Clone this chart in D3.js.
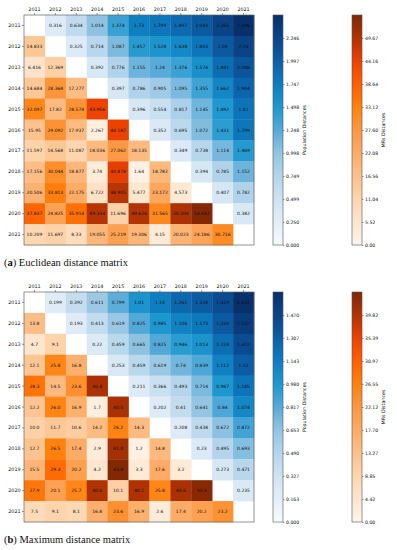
<!DOCTYPE html>
<html>
<head>
<meta charset="utf-8">
<script src="https://cdn.jsdelivr.net/npm/d3@7"></script>
<style>
  body { margin: 0; background: #fff; }
  svg { display: block; }
  .tick text { font-family: "DejaVu Sans", sans-serif; }
</style>
</head>
<body>
<div id="chart"></div>
<script>
const years = ['2011','2012','2013','2014','2015','2016','2017','2018','2019','2020','2021'];

// (a) upper triangle: population distances, row i -> columns i+1..10
const popA = [
  [0.316, 0.634, 1.014, 1.374, 1.73, 1.799, 1.897, 2.043, 2.265, 2.496],
  [0.325, 0.714, 1.087, 1.457, 1.528, 1.638, 1.803, 2.04, 2.26],
  [0.392, 0.776, 1.155, 1.24, 1.376, 1.574, 1.881, 2.088],
  [0.397, 0.786, 0.905, 1.095, 1.355, 1.662, 1.944],
  [0.396, 0.554, 0.817, 1.145, 1.492, 1.81],
  [0.352, 0.695, 1.072, 1.431, 1.799],
  [0.349, 0.738, 1.114, 1.469],
  [0.394, 0.785, 1.152],
  [0.407, 0.782],
  [0.382]
];
// (a) lower triangle: MRs distances, row i (from 2012) -> columns 0..i-1
const mrsA = [
  [14.833],
  [6.416, 12.369],
  [14.684, 28.368, 17.277],
  [32.097, 17.82, 28.574, 43.956],
  [15.95, 29.092, 17.937, 2.267, 44.187],
  [11.597, 14.568, 11.087, 18.036, 27.062, 18.135],
  [17.156, 30.044, 18.877, 3.74, 44.878, 1.64, 18.782],
  [20.506, 33.813, 22.175, 6.722, 48.905, 5.477, 23.172, 4.573],
  [37.837, 24.825, 35.914, 49.334, 11.696, 49.626, 31.565, 50.304, 54.642],
  [10.209, 11.697, 8.33, 19.055, 25.219, 19.306, 4.15, 20.023, 24.186, 30.716]
];
const popTicksA = [0, 0.250, 0.499, 0.749, 0.998, 1.248, 1.498, 1.747, 1.997, 2.246];
const mrsTicksA = [0, 5.52, 11.04, 16.56, 22.08, 27.60, 33.12, 38.64, 44.16, 49.67];

// (b)
const popB = [
  [0.199, 0.392, 0.611, 0.799, 1.01, 1.14, 1.261, 1.328, 1.419, 1.633],
  [0.193, 0.413, 0.619, 0.825, 0.985, 1.106, 1.173, 1.334, 1.532],
  [0.22, 0.459, 0.665, 0.825, 0.946, 1.013, 1.224, 1.422],
  [0.253, 0.459, 0.619, 0.74, 0.839, 1.112, 1.31],
  [0.211, 0.366, 0.493, 0.714, 0.987, 1.185],
  [0.202, 0.41, 0.641, 0.84, 1.074],
  [0.208, 0.438, 0.672, 0.872],
  [0.23, 0.495, 0.693],
  [0.273, 0.471],
  [0.235]
];
const mrsB = [
  [13.8],
  [4.7, 9.1],
  [12.1, 25.8, 16.8],
  [28.3, 14.5, 23.6, 40.4],
  [12.2, 26.0, 16.9, 1.7, 40.5],
  [10.0, 11.7, 10.6, 14.2, 26.2, 14.3],
  [12.7, 26.5, 17.4, 2.9, 41.0, 1.2, 14.8],
  [15.5, 29.3, 20.2, 4.2, 43.8, 3.3, 17.6, 3.2],
  [27.9, 20.1, 25.7, 40.0, 10.1, 40.1, 25.8, 40.6, 43.4],
  [7.5, 9.1, 8.1, 16.8, 23.6, 16.9, 2.6, 17.4, 20.2, 23.2]
];
const popTicksB = [0, 0.163, 0.327, 0.490, 0.653, 0.817, 0.980, 1.143, 1.307, 1.470];
const mrsTicksB = [0, 4.42, 8.85, 13.27, 17.70, 22.12, 26.55, 30.97, 35.39, 39.82];

// colour ramps
const blueStops = ['#f7fbff', '#e3eef8', '#cfe3f2', '#b5d5eb', '#93c4e2', '#55aad8', '#1e98cf', '#0d7dc0', '#0b5fa6', '#0a4488', '#08306b'];
const orangeStops = ['#fff5eb', '#fee6cf', '#fdd5ae', '#fdc08a', '#fdab66', '#fd9740', '#ff820f', '#ff5f00', '#ec4200', '#b23303', '#7f2704'];

const W = 397, H = 550;
const svg = d3.select('#chart').append('svg').attr('width', W).attr('height', H);

function ramp(stops, max){
    return d3.scaleLinear()
        .domain(d3.range(stops.length).map(i => max * i / (stops.length - 1)))
        .range(stops)
        .clamp(true);
}

function fmt3(v){ return String(+v.toFixed(3)); }

function colorbar(g, id, color, max, ticks, tf, x, top, size, label){
    const grad = svg.append('defs').append('linearGradient')
        .attr('id', id).attr('x1', 0).attr('x2', 0).attr('y1', 1).attr('y2', 0);
    d3.range(0, 1.0001, 0.05).forEach(t => {
        grad.append('stop').attr('offset', t).attr('stop-color', color(t * max));
    });
    const y = d3.scaleLinear().domain([0, max]).range([top + size, top]);
    g.append('rect').attr('x', x).attr('y', top).attr('width', 10).attr('height', size)
        .attr('fill', `url(#${id})`).attr('stroke', '#555').attr('stroke-width', 0.6);
    const ax = g.append('g').attr('transform', `translate(${x + 10},0)`)
        .call(d3.axisRight(y).tickValues(ticks).tickFormat(tf).tickSize(1.5).tickPadding(1.5));
    ax.select('.domain').remove();
    ax.selectAll('line').attr('stroke', '#333').attr('stroke-width', 0.5);
    ax.selectAll('text').style('font-size', '4.6px').attr('fill', '#111');
    g.append('text')
        .attr('transform', `translate(${x + 33},${top + size / 2}) rotate(-90)`)
        .attr('text-anchor', 'middle')
        .style('font-family', 'DejaVu Sans, sans-serif').style('font-size', '4.8px')
        .attr('fill', '#111')
        .text(label);
}

function drawPanel(top, pop, mrs, popMax, mrsMax, popTicks, mrsTicks, mrsFmt, letter, caption){
    const left = 24, size = 230;
    const g = svg.append('g');
    const x = d3.scaleBand().domain(years).range([left, left + size]);
    const y = d3.scaleBand().domain(years).range([top, top + size]);
    const blue = ramp(blueStops, popMax);
    const orange = ramp(orangeStops, mrsMax);

    const cells = [];
    pop.forEach((row, i) => row.forEach((v, k) => {
        cells.push({r: years[i], c: years[i + 1 + k], v, fill: blue(v), label: fmt3(v)});
    }));
    mrs.forEach((row, i) => row.forEach((v, k) => {
        cells.push({r: years[i + 1], c: years[k], v, fill: orange(v), label: mrsFmt(v)});
    }));

    g.selectAll('.cell').data(cells).enter().append('rect').attr('class', 'cell')
        .attr('x', d => x(d.c)).attr('y', d => y(d.r))
        .attr('width', x.bandwidth() + 0.3).attr('height', y.bandwidth() + 0.3)
        .attr('fill', d => d.fill);

    g.selectAll('.val').data(cells).enter().append('text').attr('class', 'val')
        .attr('x', d => x(d.c) + x.bandwidth() / 2)
        .attr('y', d => y(d.r) + y.bandwidth() / 2)
        .attr('dy', '0.35em').attr('text-anchor', 'middle')
        .style('font-family', 'DejaVu Sans, sans-serif').style('font-size', '4.5px')
        .attr('fill', '#111')
        .text(d => d.label);

    g.append('rect').attr('x', left).attr('y', top).attr('width', size).attr('height', size)
        .attr('fill', 'none').attr('stroke', '#666').attr('stroke-width', 0.7);

    const xa = g.append('g').attr('transform', `translate(0,${top})`)
        .call(d3.axisTop(x).tickSize(2).tickPadding(2));
    const ya = g.append('g').attr('transform', `translate(${left},0)`)
        .call(d3.axisLeft(y).tickSize(2).tickPadding(1.5));
    [xa, ya].forEach(a => {
        a.select('.domain').remove();
        a.selectAll('line').attr('stroke', '#333').attr('stroke-width', 0.5);
        a.selectAll('text').style('font-size', '4.8px').attr('fill', '#111');
    });

    colorbar(g, 'pop' + letter, blue, popMax, popTicks, d3.format('.3f'), 273, top, size, 'Population Distances');
    colorbar(g, 'mrs' + letter, orange, mrsMax, mrsTicks, d3.format('.2f'), 352, top, size, 'MRs Distances');

    const cap = g.append('text').attr('x', 4).attr('y', top + size + 21)
        .style('font-family', 'Liberation Serif, serif').style('font-size', '10.5px')
        .attr('fill', '#111');
    cap.append('tspan').text('(');
    cap.append('tspan').style('font-weight', 'bold').text(letter);
    cap.append('tspan').text(') ' + caption);
}

drawPanel(15, popA, mrsA, 2.496, 55.19, popTicksA, mrsTicksA, fmt3, 'a', 'Euclidean distance matrix');
drawPanel(292, popB, mrsB, 1.633, 44.24, popTicksB, mrsTicksB, d3.format('.1f'), 'b', 'Maximum distance matrix');
</script>
</body>
</html>
